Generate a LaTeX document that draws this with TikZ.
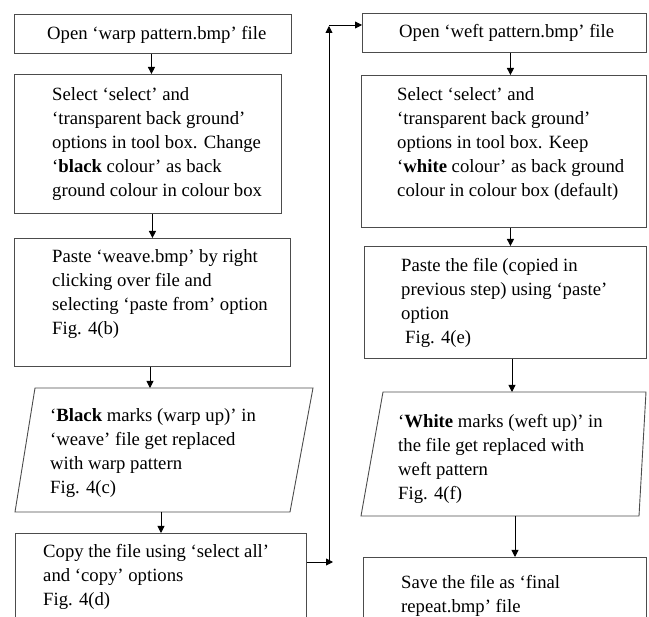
\documentclass[tikz,border=0pt]{standalone}
\usepackage{fontspec}
\setmainfont{Liberation Serif}
\usetikzlibrary{arrows.meta}
\begin{document}
\begin{tikzpicture}[x=1pt,y=-1pt,
  box/.style={draw=black!70, line width=0.9pt, inner sep=0pt, anchor=north west},
  txt/.style={anchor=base west, inner sep=0pt, align=left, font=\fontsize{18.7}{24}\selectfont},
  arr/.style={-{Triangle[length=7pt,width=7pt]}, line width=0.9pt},
  ln/.style={draw=black!70, line width=0.9pt, line join=miter}]
\clip (0,0) rectangle (649,617);
\useasboundingbox (0,0) rectangle (649,617);
% left column (text nodes anchored at the baseline of their last line)
\node[box, minimum width=277pt, minimum height=39pt] (b1) at (14,14) {};
\node[txt] (t1) at (47,40) {Open `warp pattern.bmp' file};
\node[box, minimum width=267pt, minimum height=139pt] (b2) at (14,74) {};
\node[txt] (t2) at (52,197) {Select `select' and\\`transparent back ground'\\options in tool box. Change\\`\textbf{black} colour' as back\\ground colour in colour box};
\node[box, minimum width=276pt, minimum height=128pt] (b3) at (14,238) {};
\node[txt] (t3) at (52,335) {Paste `weave.bmp' by right\\clicking over file and\\selecting `paste from' option\\Fig. 4(b)};
\coordinate (p1tl) at (35,388); \coordinate (p1tr) at (313,388);
\coordinate (p1br) at (290,512); \coordinate (p1bl) at (15,512);
\draw[ln] (p1tl) -- (p1tr) -- (p1br) -- (p1bl) -- cycle;
\coordinate (p1t) at (150,388); \coordinate (p1b) at (161,512);
\node[txt] (t4) at (50,494) {`\textbf{Black} marks (warp up)' in\\`weave' file get replaced\\with warp pattern\\Fig. 4(c)};
\node[box, minimum width=291pt, minimum height=110pt] (b5) at (15,533) {};
\node[txt] (t5) at (43,606) {Copy the file using `select all'\\and `copy' options\\Fig. 4(d)};
% right column
\node[box, minimum width=284pt, minimum height=39pt] (b6) at (362,13) {};
\node[txt] (t6) at (399,38) {Open `weft pattern.bmp' file};
\node[box, minimum width=285pt, minimum height=152pt] (b7) at (361,75) {};
\node[txt] (t7) at (397,197) {Select `select' and\\`transparent back ground'\\options in tool box. Keep\\`\textbf{white} colour' as back ground\\colour in colour box (default)};
\node[box, minimum width=282pt, minimum height=112pt] (b8) at (364,246) {};
\node[txt] (t8) at (401,344) {Paste the file (copied in\\previous step) using `paste'\\option\\\hspace{4pt}Fig. 4(e)};
\coordinate (p2tl) at (383,392); \coordinate (p2tr) at (646,392);
\coordinate (p2br) at (639,516); \coordinate (p2bl) at (361,516);
\draw[ln] (p2tl) -- (p2tr) -- (p2br) -- (p2bl) -- cycle;
\coordinate (p2t) at (512,392); \coordinate (p2b) at (515,516);
\node[txt] (t9) at (398,500) {`\textbf{White} marks (weft up)' in\\the file get replaced with\\weft pattern\\Fig. 4(f)};
\node[box, minimum width=283pt, minimum height=90pt] (b9) at (363,557) {};
\node[txt] (t10) at (401,613) {Save the file as `final\\repeat.bmp' file};
% connectors left
\draw[arr] ([xshift=-1.5pt]b1.south) -- ([xshift=-1.5pt]b1.south |- b2.north);
\draw[arr] (b3.north |- b2.south) -- (b3.north);
\draw[arr] (p1t |- b3.south) -- (p1t);
\draw[arr] (p1b) -- (p1b |- b5.north);
% loop
\coordinate (c1) at (333,562);
\coordinate (c0) at (329,562);
\coordinate (c2) at (329,25);
\draw[arr] (b5.east |- c1) -- (c1);
\draw[arr] (c0) -- ([yshift=-1pt]c2);
\draw[arr] (c2) -- (b6.west |- c2);
% connectors right
\draw[arr] ([xshift=6pt]b6.south) -- ([xshift=6pt]b6.south |- b7.north);
\draw[arr] ([xshift=6.5pt]b7.south) -- ([xshift=6.5pt]b7.south |- b8.north);
\draw[arr] (p2t |- b8.south) -- (p2t);
\draw[arr] (p2b) -- (p2b |- b9.north);
\end{tikzpicture}
\end{document}
